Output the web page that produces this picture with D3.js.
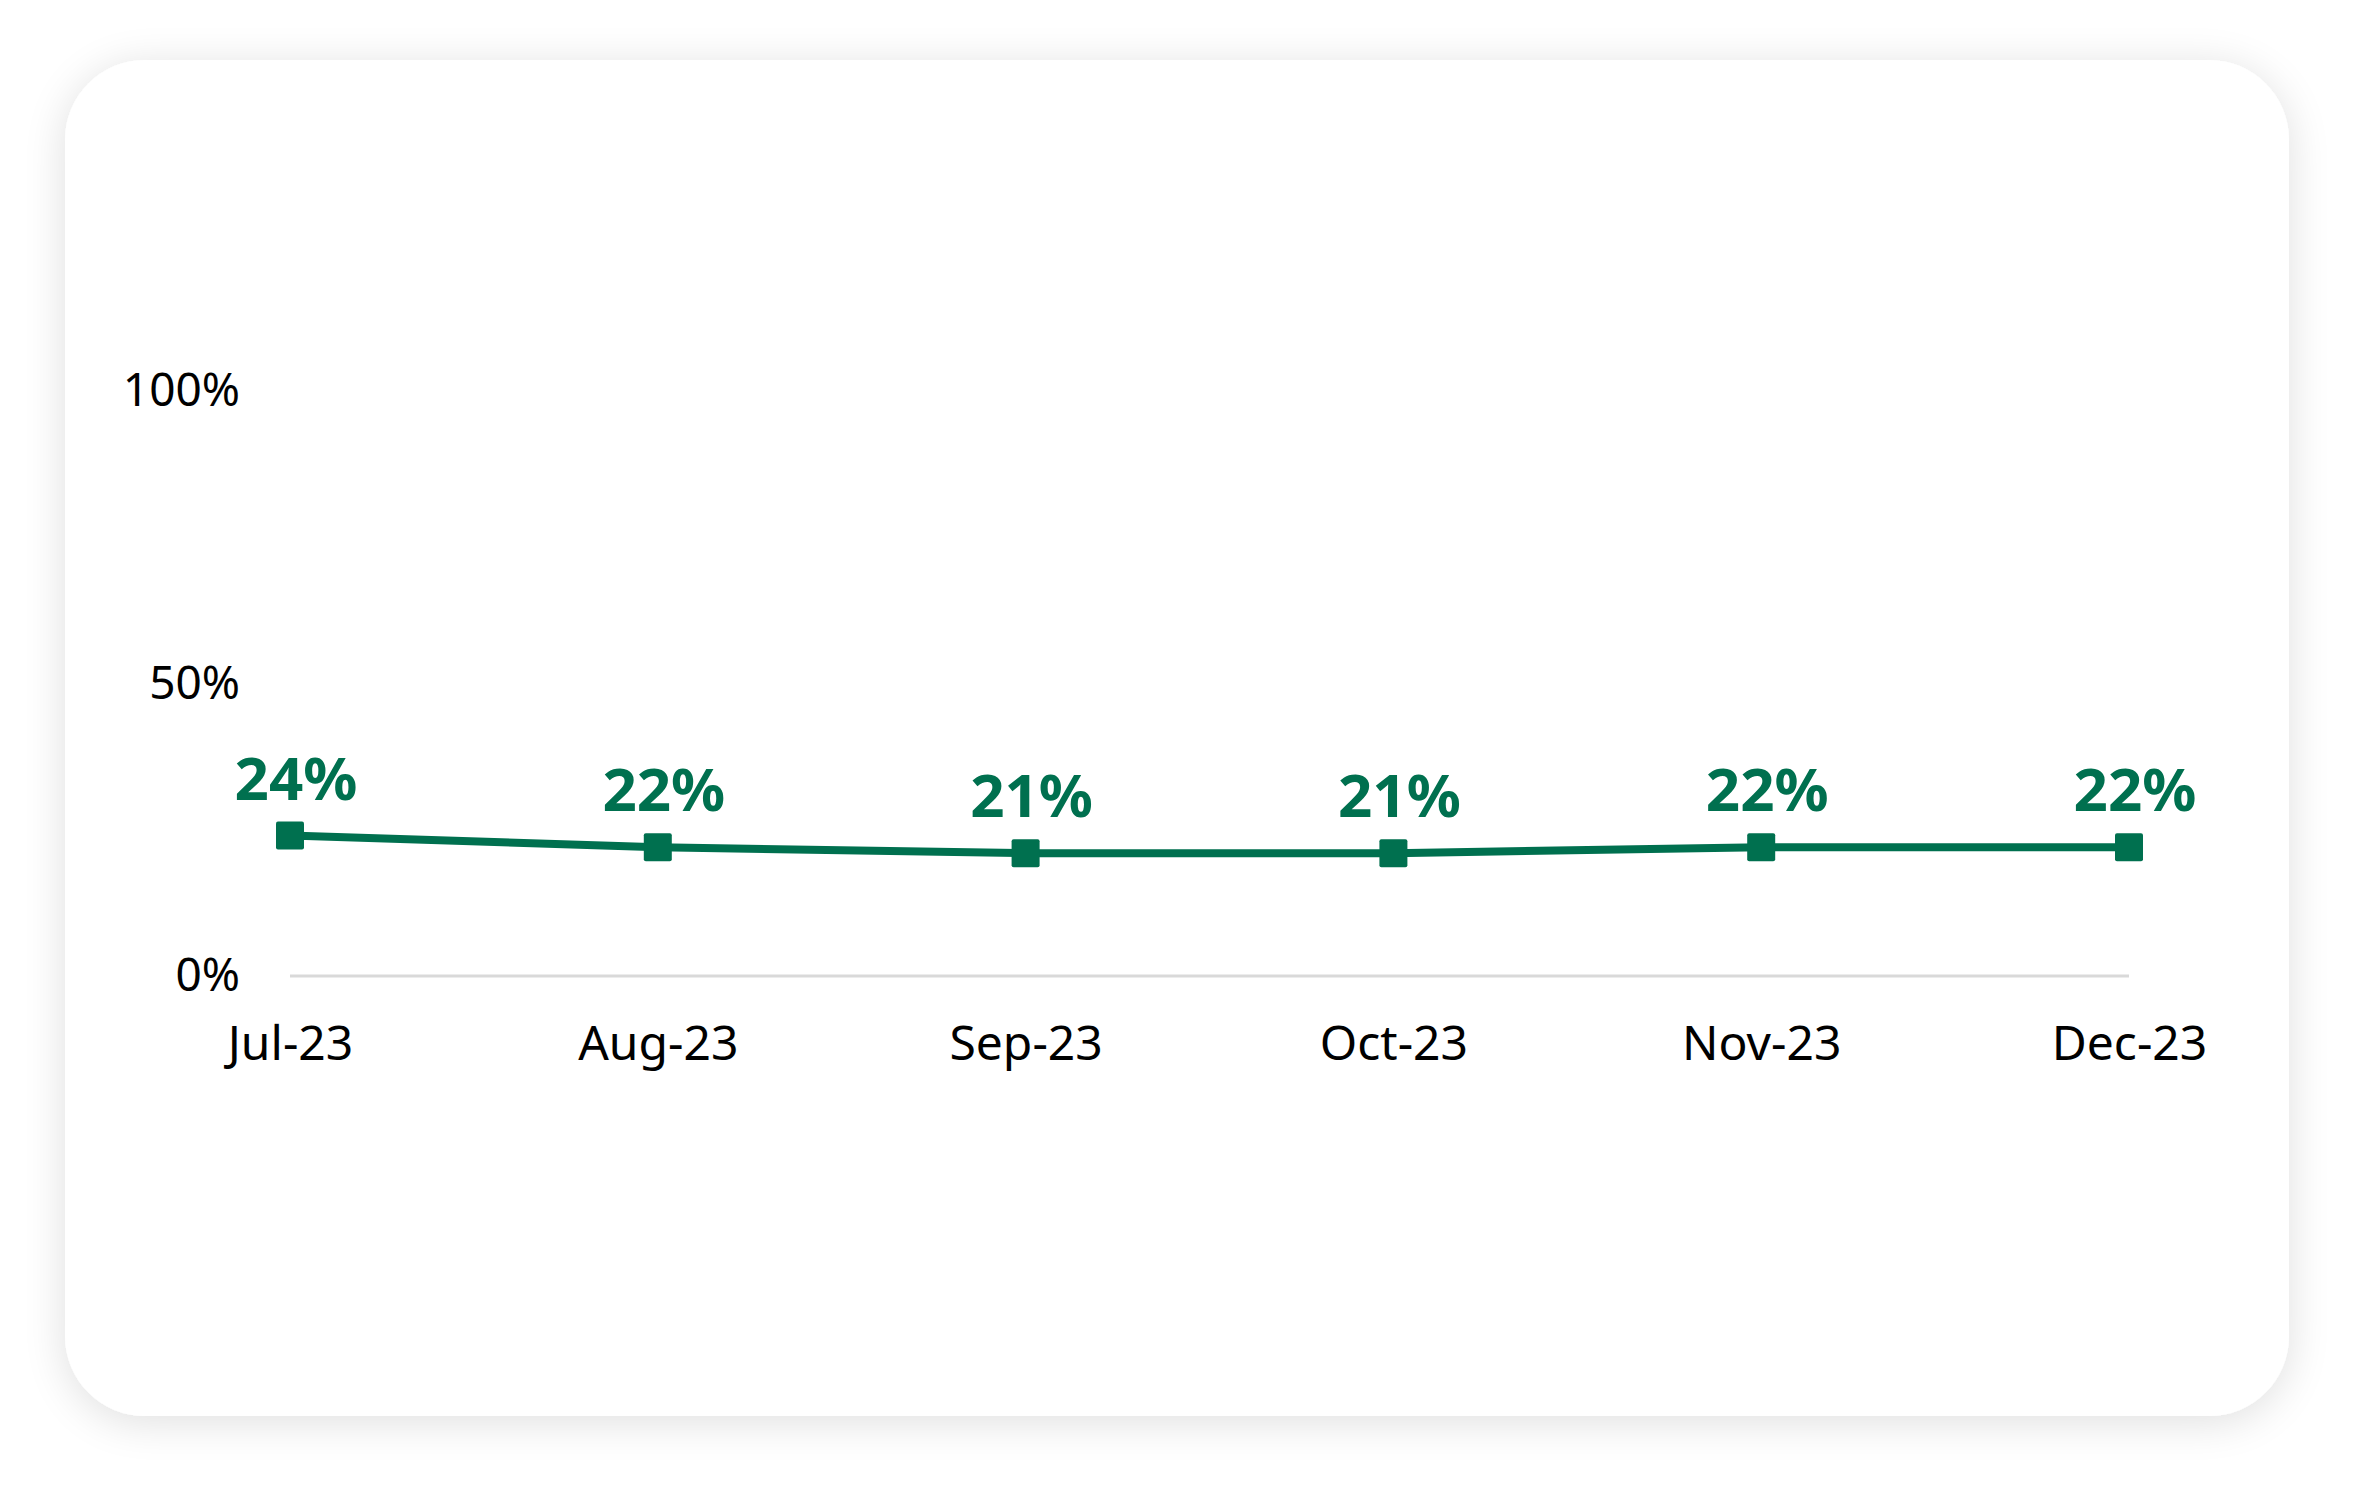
<!DOCTYPE html>
<html>
<head>
<meta charset="utf-8">
<script src="https://cdn.jsdelivr.net/npm/d3@7"></script>
<style>
  html, body { margin: 0; padding: 0; background: #ffffff; }
  svg { display: block; }
</style>
</head>
<body>
<div id="chart"></div>
<script>
// data
var months = ["Jul-23", "Aug-23", "Sep-23", "Oct-23", "Nov-23", "Dec-23"];
var share = [0.24, 0.22, 0.21, 0.21, 0.22, 0.22];
var yTicks = [0, 0.5, 1];

var W = 2354, H = 1487;
var green = "#00704f";

var svg = d3.select("#chart").append("svg").attr("width", W).attr("height", H);

// card with soft shadow
var defs = svg.append("defs");
var f = defs.append("filter").attr("id", "shadow")
  .attr("x", "-10%").attr("y", "-10%").attr("width", "120%").attr("height", "120%");
f.append("feGaussianBlur").attr("in", "SourceAlpha").attr("stdDeviation", 22);
f.append("feOffset").attr("dx", 0).attr("dy", 6).attr("result", "blur");
f.append("feComponentTransfer").append("feFuncA").attr("type", "linear").attr("slope", 0.13);
var m = f.append("feMerge");
m.append("feMergeNode");
m.append("feMergeNode").attr("in", "SourceGraphic");

svg.append("rect")
  .attr("x", 65).attr("y", 60).attr("width", 2224).attr("height", 1356)
  .attr("rx", 80).attr("ry", 80)
  .attr("fill", "#ffffff")
  .attr("filter", "url(#shadow)");

var x = d3.scalePoint().domain(months).range([290, 2129]);
var y = d3.scaleLinear().domain([0, 1]).range([976, 391]);

// baseline
svg.append("line")
  .attr("x1", x.range()[0]).attr("x2", x.range()[1])
  .attr("y1", y(0)).attr("y2", y(0))
  .attr("stroke", "#d9d9d9").attr("stroke-width", 3);

var yAxis = svg.append("g")
  .attr("transform", "translate(250,0)")
  .call(d3.axisLeft(y).tickValues(yTicks).tickSize(0).tickPadding(10).tickFormat(d3.format(".0%")));
yAxis.select(".domain").remove();
yAxis.selectAll("text")
  .attr("font-family", "'Noto Sans', sans-serif")
  .attr("font-size", 46).attr("fill", "#000");

var xAxis = svg.append("g")
  .attr("transform", "translate(0," + y(0) + ")")
  .call(d3.axisBottom(x).tickSize(0).tickPadding(50));
xAxis.select(".domain").remove();
xAxis.selectAll("text")
  .attr("font-family", "'Noto Sans', sans-serif")
  .attr("font-size", 48).attr("fill", "#000");

var pts = months.map(function(d, i) { return { m: d, v: share[i] }; });

svg.append("path")
  .datum(pts)
  .attr("fill", "none")
  .attr("stroke", green)
  .attr("stroke-width", 8)
  .attr("d", d3.line().x(function(d) { return x(d.m); }).y(function(d) { return y(d.v); }));

var s = 28;
svg.selectAll("rect.mk").data(pts).enter().append("rect")
  .attr("class", "mk")
  .attr("x", function(d) { return x(d.m) - s / 2; })
  .attr("y", function(d) { return y(d.v) - s / 2; })
  .attr("width", s).attr("height", s)
  .attr("rx", 2)
  .attr("fill", green);

svg.selectAll("text.lbl").data(pts).enter().append("text")
  .attr("class", "lbl")
  .attr("x", function(d) { return x(d.m) + 6; })
  .attr("y", function(d) { return y(d.v) - 36; })
  .attr("text-anchor", "middle")
  .attr("font-family", "'Noto Sans', sans-serif")
  .attr("font-weight", 700)
  .attr("font-size", 60)
  .attr("fill", green)
  .text(function(d) { return d3.format(".0%")(d.v); });
</script>
</body>
</html>
